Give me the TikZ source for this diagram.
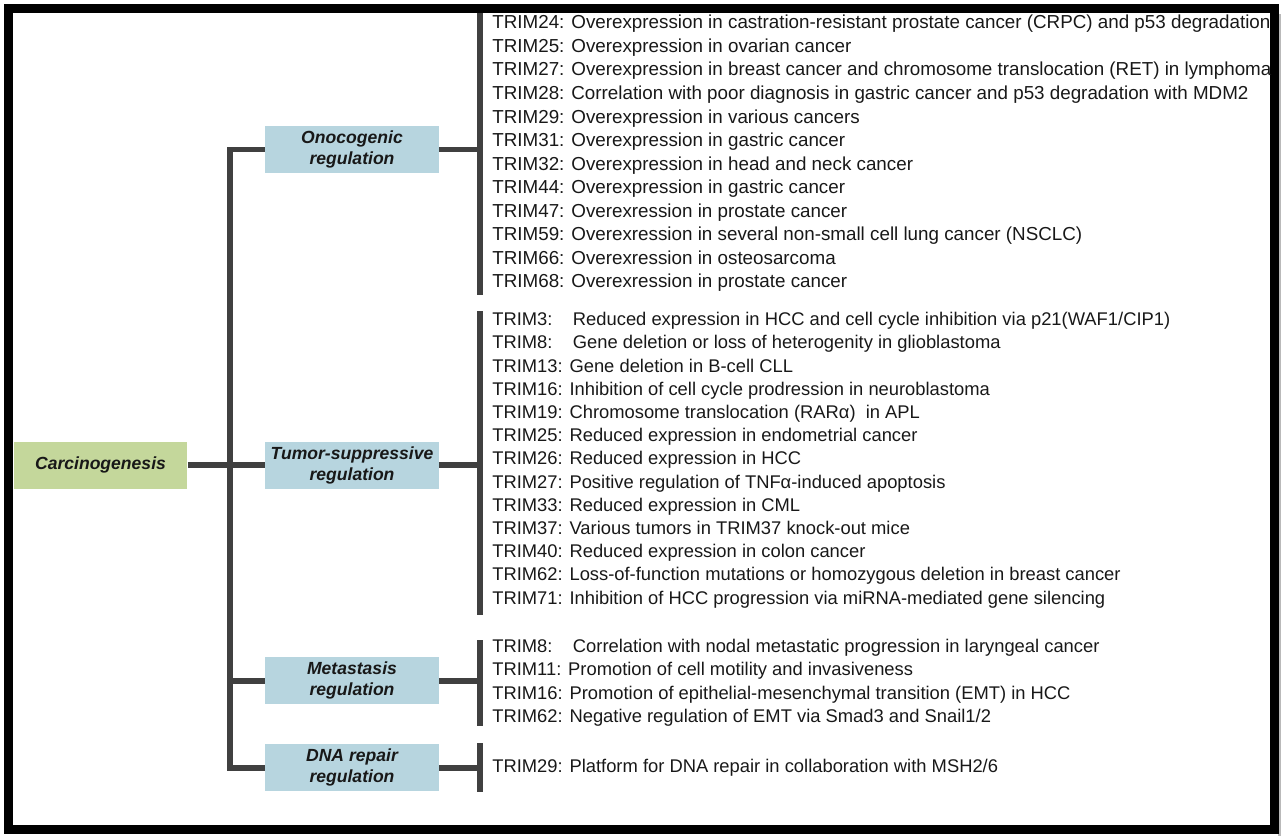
\documentclass[tikz,border=0pt]{standalone}
\usepackage{fontspec}
\setmainfont{Liberation Sans}
\usetikzlibrary{positioning}
\definecolor{boxgreen}{RGB}{196,215,155}
\definecolor{boxblue}{RGB}{183,213,223}
\definecolor{linegray}{RGB}{64,64,64}
\definecolor{txtgray}{RGB}{24,24,24}
\tikzset{
  catbox/.style={fill=boxblue,minimum width=3.48cm,minimum height=0.94cm,inner sep=0pt,
    align=center,text=txtgray,font=\fontsize{10}{12}\selectfont\bfseries\itshape},
  rootbox/.style={catbox,fill=boxgreen},
  branch/.style={draw=linegray,line width=3.4pt},
  bar/.style={draw=linegray,line width=3pt},
  entry/.style={anchor=base west,inner sep=0pt,text=txtgray,font=\fontsize{10.45}{12}\selectfont},
  bigentry/.style={entry,font=\fontsize{10.7}{12}\selectfont}
}
\begin{document}
\begin{tikzpicture}[x=0.02cm,y=-0.02cm]
\useasboundingbox (0,0) rectangle (1281,836);
% frame
\fill[gray!55] (1278,14) rectangle (1281,836);
\draw[line width=4.8pt] (8.5,8.5) rectangle (1274.5,829.5);
% boxes
\node[rootbox] (carc) at (100.5,465) {Carcinogenesis};
\node[catbox] (onco) at (352,149.5) {Onocogenic\\regulation};
\node[catbox] (tumor) at (352,465) {Tumor-suppressive\\regulation};
\node[catbox] (meta) at (352,680.5) {Metastasis\\regulation};
\node[catbox] (dna) at (352,767.5) {DNA repair\\regulation};
% trunk
\coordinate (trunk) at (230,0);
\draw[branch] (onco.west) -- (onco.west -| trunk) |- (dna.west);
\draw[branch] (carc.east) -- (tumor.west);
\draw[branch] (meta.west) -- (meta.west -| trunk);
% bars
\coordinate (b1t) at (480,13);   \coordinate (b1b) at (480,295);
\coordinate (b2t) at (480,311);  \coordinate (b2b) at (480,615);
\coordinate (b3t) at (480,640);  \coordinate (b3b) at (480,726);
\coordinate (b4t) at (480,743);  \coordinate (b4b) at (480,792);
\draw[bar] (b1t) -- (b1b);
\draw[bar] (b2t) -- (b2b);
\draw[bar] (b3t) -- (b3b);
\draw[bar] (b4t) -- (b4b);
\draw[branch] (onco.east) -- (onco.east -| b1t);
\draw[branch] (tumor.east) -- (tumor.east -| b2t);
\draw[branch] (meta.east) -- (meta.east -| b3t);
\draw[branch] (dna.east) -- (dna.east -| b4t);
% oncogenic entries
\foreach \txt [count=\i from 0] in {
  TRIM24: Overexpression in castration-resistant prostate cancer (CRPC) and p53 degradation,
  TRIM25: Overexpression in ovarian cancer,
  TRIM27: Overexpression in breast cancer and chromosome translocation (RET) in lymphoma,
  TRIM28: Correlation with poor diagnosis in gastric cancer and p53 degradation with MDM2,
  TRIM29: Overexpression in various cancers,
  TRIM31: Overexpression in gastric cancer,
  TRIM32: Overexpression in head and neck cancer,
  TRIM44: Overexpression in gastric cancer,
  TRIM47: Overexression in prostate cancer,
  TRIM59: Overexression in several non-small cell lung cancer (NSCLC),
  TRIM66: Overexression in osteosarcoma,
  TRIM68: Overexression in prostate cancer}
  \node[bigentry] (onc\i) at (492,{28.8+23.55*\i}) {\txt};
% tumor-suppressive entries
\foreach \txt [count=\i from 0] in {
  TRIM3:\hphantom{1}\ \ Reduced expression in HCC and cell cycle inhibition via p21(WAF1/CIP1),
  TRIM8:\hphantom{1}\ \ Gene deletion or loss of heterogenity in glioblastoma,
  TRIM13: Gene deletion in B-cell CLL,
  TRIM16: Inhibition of cell cycle prodression in neuroblastoma,
  TRIM19: Chromosome translocation (RARα)\ \ in APL,
  TRIM25: Reduced expression in endometrial cancer,
  TRIM26: Reduced expression in HCC,
  TRIM27: Positive regulation of TNFα-induced apoptosis,
  TRIM33: Reduced expression in CML,
  TRIM37: Various tumors in TRIM37 knock-out mice,
  TRIM40: Reduced expression in colon cancer,
  TRIM62: Loss-of-function mutations or homozygous deletion in breast cancer,
  TRIM71: Inhibition of HCC progression via miRNA-mediated gene silencing}
  \node[entry] (sup\i) at (492,{325.6+23.2*\i}) {\txt};
% metastasis entries
\foreach \txt [count=\i from 0] in {
  TRIM8:\hphantom{1}\ \ Correlation with nodal metastatic progression in laryngeal cancer,
  TRIM11: Promotion of cell motility and invasiveness,
  TRIM16: Promotion of epithelial-mesenchymal transition (EMT) in HCC,
  TRIM62: Negative regulation of EMT via Smad3 and Snail1/2}
  \node[entry] (met\i) at (492,{652.6+23.2*\i}) {\txt};
% DNA repair entry
\node[entry] (rep0) at (492,772.6) {TRIM29: Platform for DNA repair in collaboration with MSH2/6};
\end{tikzpicture}
\end{document}
